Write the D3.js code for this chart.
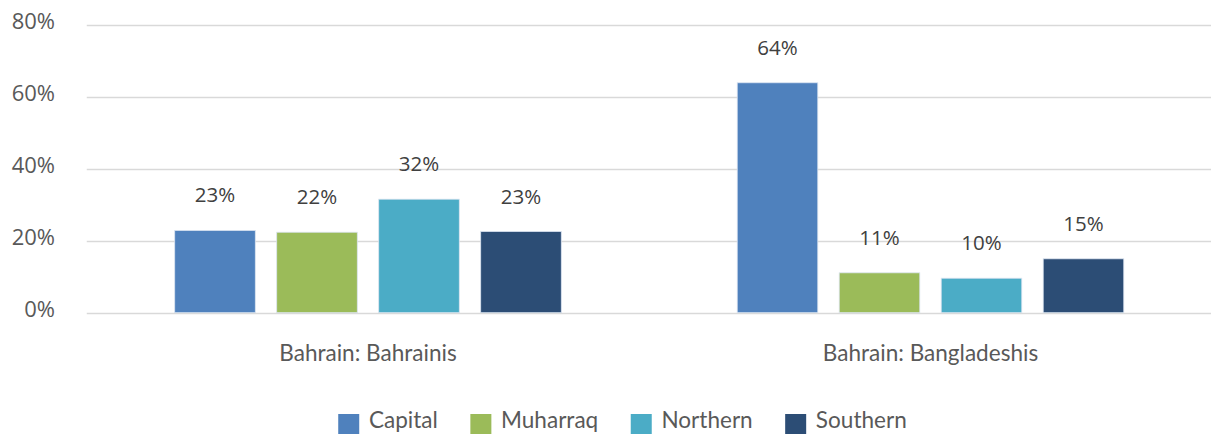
<!DOCTYPE html>
<html>
<head>
<meta charset="utf-8">
<script src="https://cdn.jsdelivr.net/npm/d3@7"></script>
<style>
  body { margin: 0; background: #fff; }
  svg { display: block; }
</style>
</head>
<body>
<svg id="chart" width="1211" height="434"></svg>
<script>
// data (percent)
var categories = ["Bahrain: Bahrainis", "Bahrain: Bangladeshis"];
var series = ["Capital", "Muharraq", "Northern", "Southern"];
var capital = [22.9, 64.0];
var muharraq = [22.4, 11.1];
var northern = [31.6, 9.6];
var southern = [22.6, 15.0];
var yTicks = [0, 20, 40, 60, 80];
var colors = ["#4f81bd", "#9bbb59", "#4bacc6", "#2c4d75"];

var values = [capital, muharraq, northern, southern];

var width = 1211;
var height = 434;
var squeeze = 0.94;

var svg = d3.select('#chart');

var x0 = d3.scaleBand()
    .domain(categories)
    .range([86.75, 1211.75]);

var x1 = d3.scaleBand()
    .domain(series)
    .range([0, x0.bandwidth()])
    .paddingInner(0.21)
    .paddingOuter(0.8625);

var y = d3.scaleLinear()
    .domain([0, 80])
    .range([312.7, 25.3]);

var color = d3.scaleOrdinal().domain(series).range(colors);

// gridlines
svg.append('g')
    .selectAll('line')
    .data(yTicks)
    .enter()
    .append('line')
    .attr('x1', x0.range()[0])
    .attr('x2', width)
    .attr('y1', function (d) { return Math.round(y(d)) + 0.5; })
    .attr('y2', function (d) { return Math.round(y(d)) + 0.5; })
    .attr('stroke', '#d9d9d9')
    .attr('stroke-width', 1.3);

// y tick labels
svg.append('g')
    .selectAll('text')
    .data(yTicks)
    .enter()
    .append('text')
    .attr('x', 55)
    .attr('y', function (d) { return y(d) + 3.8; })
    .attr('text-anchor', 'end')
    .attr('font-family', 'Open Sans, sans-serif')
    .attr('font-size', 22)
    .attr('fill', '#595959')
    .text(function (d) { return d + '%'; });

// bars
var rows = [];
categories.forEach(function (c, i) {
    series.forEach(function (s, j) {
        rows.push({cat: c, ser: s, val: values[j][i]});
    });
});

var bars = svg.append('g');

bars.selectAll('rect')
    .data(rows)
    .enter()
    .append('rect')
    .attr('x', function (d) { return x0(d.cat) + x1(d.ser); })
    .attr('y', function (d) { return y(d.val); })
    .attr('width', x1.bandwidth())
    .attr('height', function (d) { return y(0) - y(d.val); })
    .attr('fill', function (d) { return color(d.ser); })
    .attr('stroke', '#dbe4f0')
    .attr('stroke-width', 0.8);

bars.selectAll('text')
    .data(rows)
    .enter()
    .append('text')
    .attr('x', function (d) { return x0(d.cat) + x1(d.ser) + x1.bandwidth() / 2; })
    .attr('y', function (d) { return y(d.val) - 28; })
    .attr('text-anchor', 'middle')
    .attr('font-family', 'Open Sans, sans-serif')
    .attr('font-size', 20.5)
    .attr('fill', '#404040')
    .text(function (d) { return d3.format('.0f')(d.val) + '%'; });

// category labels
svg.append('g')
    .selectAll('text')
    .data(categories)
    .enter()
    .append('text')
    .attr('transform', function (d) {
        return 'translate(' + (x0(d) + x0.bandwidth() / 2) + ',361) scale(' + squeeze + ',1)';
    })
    .attr('text-anchor', 'middle')
    .attr('font-family', 'Lato, sans-serif')
    .attr('font-size', 24)
    .attr('fill', '#595959')
    .text(function (d) { return d; });

// legend
var legend = svg.append('g');
var items = legend.selectAll('g')
    .data(series)
    .enter()
    .append('g');

items.append('rect')
    .attr('y', 414)
    .attr('width', 21)
    .attr('height', 20)
    .attr('fill', function (d) { return color(d); });

items.append('text')
    .attr('transform', 'translate(30.7,428) scale(' + squeeze + ',1)')
    .attr('font-family', 'Lato, sans-serif')
    .attr('font-size', 24)
    .attr('fill', '#595959')
    .text(function (d) { return d; });

var pos = 0;
items.each(function () {
    var g = d3.select(this);
    g.attr('transform', 'translate(' + pos + ',0)');
    var tw = g.select('text').node().getComputedTextLength() * squeeze;
    pos += 30.7 + tw + 32.5;
});
var total = pos - 32.5;
legend.attr('transform', 'translate(' + (622.5 - total / 2) + ',0)');
</script>
</body>
</html>
